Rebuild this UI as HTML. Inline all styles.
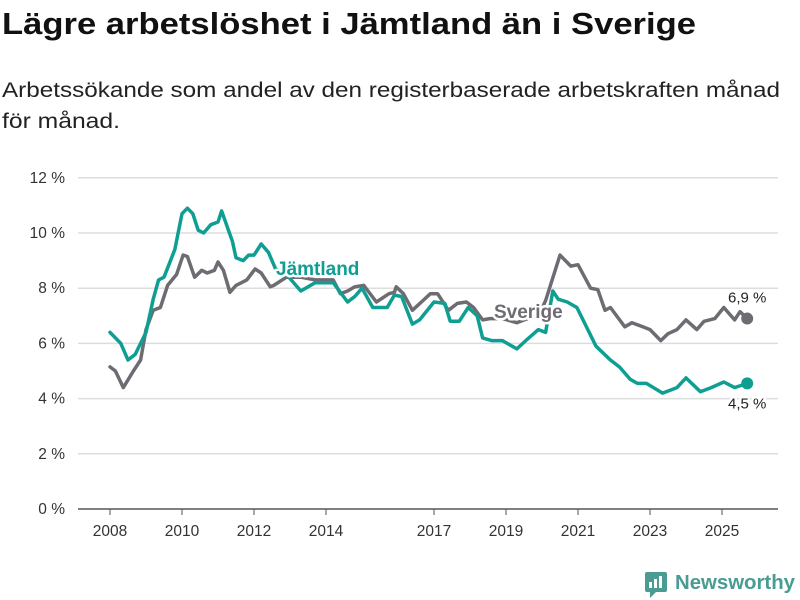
<!DOCTYPE html>
<html><head><meta charset="utf-8">
<style>
html,body{margin:0;padding:0;background:#fff;}
svg{display:block;font-family:"Liberation Sans",sans-serif;}
</style></head>
<body>
<svg id="chart" width="800" height="600" viewBox="0 0 800 600" xmlns="http://www.w3.org/2000/svg">
<text x="2" y="34" font-size="31" font-weight="bold" fill="#111" textLength="694" lengthAdjust="spacingAndGlyphs">Lägre arbetslöshet i Jämtland än i Sverige</text>
<text x="2" y="97" font-size="21" fill="#222" textLength="778" lengthAdjust="spacingAndGlyphs">Arbetssökande som andel av den registerbaserade arbetskraften månad</text>
<text x="2" y="128" font-size="21" fill="#222" textLength="118" lengthAdjust="spacingAndGlyphs">för månad.</text>
<g id="grid"></g>
<g id="yticks"></g>
<g id="xticks"></g>
<g id="series"></g>
<g id="labels"></g>
<g>
<rect x="645" y="572" width="22" height="20" rx="2" fill="#4a9c92"/>
<polygon points="650,592 656,592 650,598" fill="#4a9c92"/>
<rect x="649" y="582" width="3" height="6" fill="#fff"/><rect x="654" y="579" width="3" height="9" fill="#fff"/><rect x="659" y="576" width="3" height="12" fill="#fff"/>
<text x="675" y="589" font-size="20" font-weight="bold" fill="#4a9c92" textLength="120" lengthAdjust="spacingAndGlyphs">Newsworthy</text>
</g>
</svg>
<script>
const yTicks = [0, 2, 4, 6, 8, 10, 12];
const xTickYears = [2008, 2010, 2012, 2014, 2017, 2019, 2021, 2023, 2025];
const jamtDates = [2008.0,2008.3,2008.5,2008.7,2009.0,2009.2,2009.35,2009.5,2009.8,2010.0,2010.15,2010.3,2010.45,2010.6,2010.8,2011.0,2011.1,2011.4,2011.5,2011.7,2011.85,2012.0,2012.2,2012.4,2012.6,2012.9,2013.3,2013.7,2014.2,2014.6,2014.8,2015.0,2015.3,2015.7,2015.9,2016.1,2016.4,2016.6,2017.0,2017.3,2017.45,2017.7,2017.95,2018.2,2018.35,2018.6,2018.9,2019.3,2019.55,2019.9,2020.1,2020.3,2020.45,2020.7,2020.97,2021.5,2021.9,2022.15,2022.45,2022.65,2022.9,2023.35,2023.75,2024.0,2024.4,2024.7,2025.05,2025.35,2025.7];
const jamtValues = [6.4,6.0,5.4,5.6,6.4,7.6,8.3,8.4,9.4,10.7,10.9,10.7,10.1,10.0,10.3,10.4,10.8,9.7,9.1,9.0,9.2,9.2,9.6,9.3,8.7,8.5,7.9,8.2,8.2,7.5,7.7,8.0,7.3,7.3,7.75,7.7,6.7,6.85,7.5,7.45,6.8,6.8,7.3,7.0,6.2,6.1,6.1,5.8,6.1,6.5,6.4,7.9,7.6,7.5,7.3,5.9,5.4,5.15,4.7,4.55,4.55,4.2,4.4,4.75,4.25,4.4,4.6,4.4,4.55];
const sveDates = [2008.0,2008.15,2008.37,2008.65,2008.85,2009.0,2009.2,2009.4,2009.6,2009.85,2010.03,2010.15,2010.35,2010.55,2010.7,2010.9,2011.0,2011.15,2011.33,2011.5,2011.8,2012.03,2012.2,2012.45,2012.55,2012.9,2013.3,2013.7,2014.2,2014.4,2014.6,2014.8,2015.05,2015.4,2015.75,2015.9,2015.95,2016.15,2016.4,2016.65,2016.9,2017.1,2017.4,2017.65,2017.9,2018.1,2018.35,2018.55,2018.9,2019.3,2019.6,2019.9,2020.1,2020.5,2020.8,2021.0,2021.35,2021.55,2021.75,2021.9,2022.3,2022.5,2022.8,2023.0,2023.3,2023.5,2023.75,2024.0,2024.3,2024.5,2024.8,2025.05,2025.35,2025.5,2025.7];
const sveValues = [5.15,5.0,4.4,5.0,5.4,6.5,7.2,7.3,8.1,8.5,9.2,9.15,8.4,8.65,8.55,8.65,8.95,8.65,7.85,8.1,8.3,8.7,8.55,8.05,8.1,8.4,8.4,8.3,8.3,7.8,7.9,8.05,8.1,7.5,7.8,7.85,8.05,7.8,7.2,7.5,7.8,7.8,7.2,7.45,7.5,7.3,6.85,6.9,6.9,6.75,6.9,7.0,7.55,9.2,8.8,8.85,8.0,7.95,7.2,7.3,6.6,6.75,6.6,6.5,6.1,6.35,6.5,6.85,6.5,6.8,6.9,7.3,6.85,7.15,6.9];
const jamtLast = "4,5 %";
const sveLast = "6,9 %";

const NS = "http://www.w3.org/2000/svg";
const X0 = 110, PXY = 36, Y0 = 509, PXV = 27.6;
function xScale(t){ return X0 + (t - 2008) * PXY; }
function yScale(v){ return Y0 - v * PXV; }
function mk(tag, attrs, parent){ const e = document.createElementNS(NS, tag); for (const k in attrs) e.setAttribute(k, attrs[k]); parent.appendChild(e); return e; }

const grid = document.getElementById('grid');
const yt = document.getElementById('yticks');
yTicks.forEach(v => {
  const l = mk('line', {x1: 78, x2: 778, y1: yScale(v), y2: yScale(v), stroke: v === 0 ? '#555' : '#ddd', 'stroke-width': 1.5}, grid);
  
  
  const t = mk('text', {x: 65, y: yScale(v) + 5, 'text-anchor': 'end', 'font-size': 15.5, fill: '#333'}, yt);
  t.textContent = v + ' %';
  
  
});
const xt = document.getElementById('xticks');
xTickYears.forEach(y => {
  const tk = mk('line', {x1: xScale(y), x2: xScale(y), y1: Y0, y2: Y0 + 6, stroke: '#555', 'stroke-width': 1}, xt);
  
  
  const t = mk('text', {x: xScale(y), y: 536, 'text-anchor': 'middle', 'font-size': 15.5, fill: '#333'}, xt);
  t.textContent = y;
  
  
});

const series = document.getElementById('series');
function drawLine(dates, vals, color, name){
  const d = dates.map((t, i) => (i ? 'L' : 'M') + xScale(t).toFixed(1) + ',' + yScale(vals[i]).toFixed(1)).join('');
  const p = mk('path', {d: d, fill: 'none', stroke: color, 'stroke-width': 3.5, 'stroke-linejoin': 'round', 'stroke-linecap': 'round'}, series);
  
  
  const n = dates.length - 1;
  const c = mk('circle', {cx: xScale(dates[n]), cy: yScale(vals[n]), r: 6, fill: color}, series);
  
  
}
drawLine(sveDates, sveValues, '#6e6c72', 'sverige');
drawLine(jamtDates, jamtValues, '#0f9f92', 'jamtland');

const lab = document.getElementById('labels');
function label(txt, x, y, color, bold, anchor, name){
  const t = mk('text', {x: x, y: y, 'font-size': bold ? 19 : 15, 'font-weight': bold ? 'bold' : 'normal', fill: color, 'text-anchor': anchor, stroke: '#fff', 'stroke-width': 5, 'paint-order': 'stroke', 'stroke-linejoin': 'round'}, lab);
  t.textContent = txt;
  
  
}
label('Jämtland', 276, 275, '#0f9f92', true, 'start', 'jamtland-label');
label('Sverige', 494, 318, '#6e6c72', true, 'start', 'sverige-label');
const jn = jamtDates.length - 1, sn = sveDates.length - 1;
label(sveLast, xScale(sveDates[sn]), yScale(sveValues[sn]) - 16, '#222', false, 'middle', 'sverige-end-value');
label(jamtLast, xScale(jamtDates[jn]), yScale(jamtValues[jn]) + 25, '#222', false, 'middle', 'jamtland-end-value');
</script>
</body></html>
